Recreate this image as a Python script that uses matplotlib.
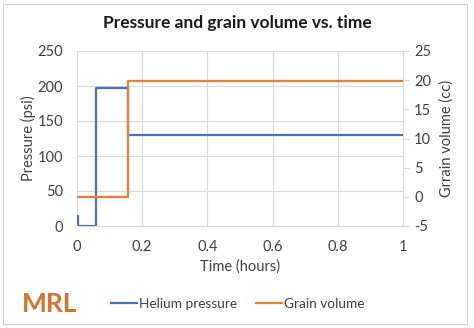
import matplotlib
matplotlib.use("Agg")
import matplotlib.pyplot as plt
from matplotlib.patches import Rectangle
from matplotlib.lines import Line2D

# Data
time_pressure = [0.0, 0.004, 0.057, 0.157, 1.0]
helium_pressure = [15, 0, 197, 130, 130]
time_volume = [0.0, 0.157, 1.0]
grain_volume = [0, 19.9, 19.9]
x_ticks = [0, 0.2, 0.4, 0.6, 0.8, 1]
x_tick_labels = ["0", "0.2", "0.4", "0.6", "0.8", "1"]
left_ticks = [0, 50, 100, 150, 200, 250]
right_ticks = [-5, 0, 5, 10, 15, 20, 25]

plt.rcParams['font.family'] = ['Lato', 'DejaVu Sans']
plt.rcParams['axes.unicode_minus'] = False
BLUE = "#4472C4"
ORANGE = "#ED7D31"
GRID = "#D9D9D9"
TXT = "#404040"

fig = plt.figure(figsize=(4.74, 3.28), dpi=100)
fig.patches.append(Rectangle((0.006, 0.012), 0.980, 0.976, transform=fig.transFigure,
                             fill=False, edgecolor="#D0D0D0", linewidth=0.8))
ax = fig.add_axes([77/474, 1-226/328, (403-77)/474, (226-51)/328])
ax2 = ax.twinx()

ax.plot(time_pressure, helium_pressure, drawstyle="steps-post", color=BLUE, lw=1.6, zorder=3)
ax2.plot(time_volume, grain_volume, drawstyle="steps-post", color=ORANGE, lw=1.6, zorder=3)

ax.set_xlim(0, 1)
ax.set_ylim(0, 250)
ax2.set_ylim(-5, 25)
ax.set_xticks(x_ticks)
ax.set_xticklabels(x_tick_labels)
ax.set_yticks(left_ticks)
ax2.set_yticks(right_ticks)

ax.grid(True, color=GRID, lw=0.8)
ax.set_axisbelow(True)
for a in (ax, ax2):
    for s in a.spines.values():
        s.set_visible(False)
ax2.spines['right'].set_visible(True)
ax2.spines['right'].set_color(GRID)
ax.spines['bottom'].set_visible(True)
ax.spines['bottom'].set_color(GRID)

ax.tick_params(axis='x', length=0, labelsize=10.5, labelcolor=TXT, pad=10)
ax.tick_params(axis='y', length=0, labelsize=10.5, labelcolor=TXT, pad=10)
ax2.tick_params(axis='y', length=4, color=GRID, labelsize=10.5, labelcolor=TXT, pad=4)

ax.set_xlabel("Time (hours)", fontsize=10.5, color=TXT, va="center")
ax.xaxis.set_label_coords(0.5, (226-267)/175)
ax.set_ylabel("Pressure (psi)", fontsize=10.5, color=TXT, va="center")
ax.yaxis.set_label_coords((28-77)/326, 0.5)
ax2.set_ylabel("Grrain volume (cc)", fontsize=10.5, color=TXT, va="center")
ax2.yaxis.set_label_coords((447-77)/326, 0.5)

fig.text(237/474, 1-23/328, "Pressure and grain volume vs. time", ha="center", va="center",
         fontsize=12.5, fontweight="bold", color="#1a1a1a")
fig.text(22/474, 1-304/328, "MRL", ha="left", va="center", fontsize=19,
         fontweight="bold", color="#D9722A")

handles = [Line2D([], [], color=BLUE, lw=1.6), Line2D([], [], color=ORANGE, lw=1.6)]
fig.legend(handles, ["Helium pressure", "Grain volume"], loc="center",
           bbox_to_anchor=(238/474, 1-304/328), ncol=2, frameon=False,
           fontsize=9.8, handlelength=1.9, handletextpad=0.15, columnspacing=1.4,
           labelcolor=TXT)

fig.savefig("out.png", dpi=100)
